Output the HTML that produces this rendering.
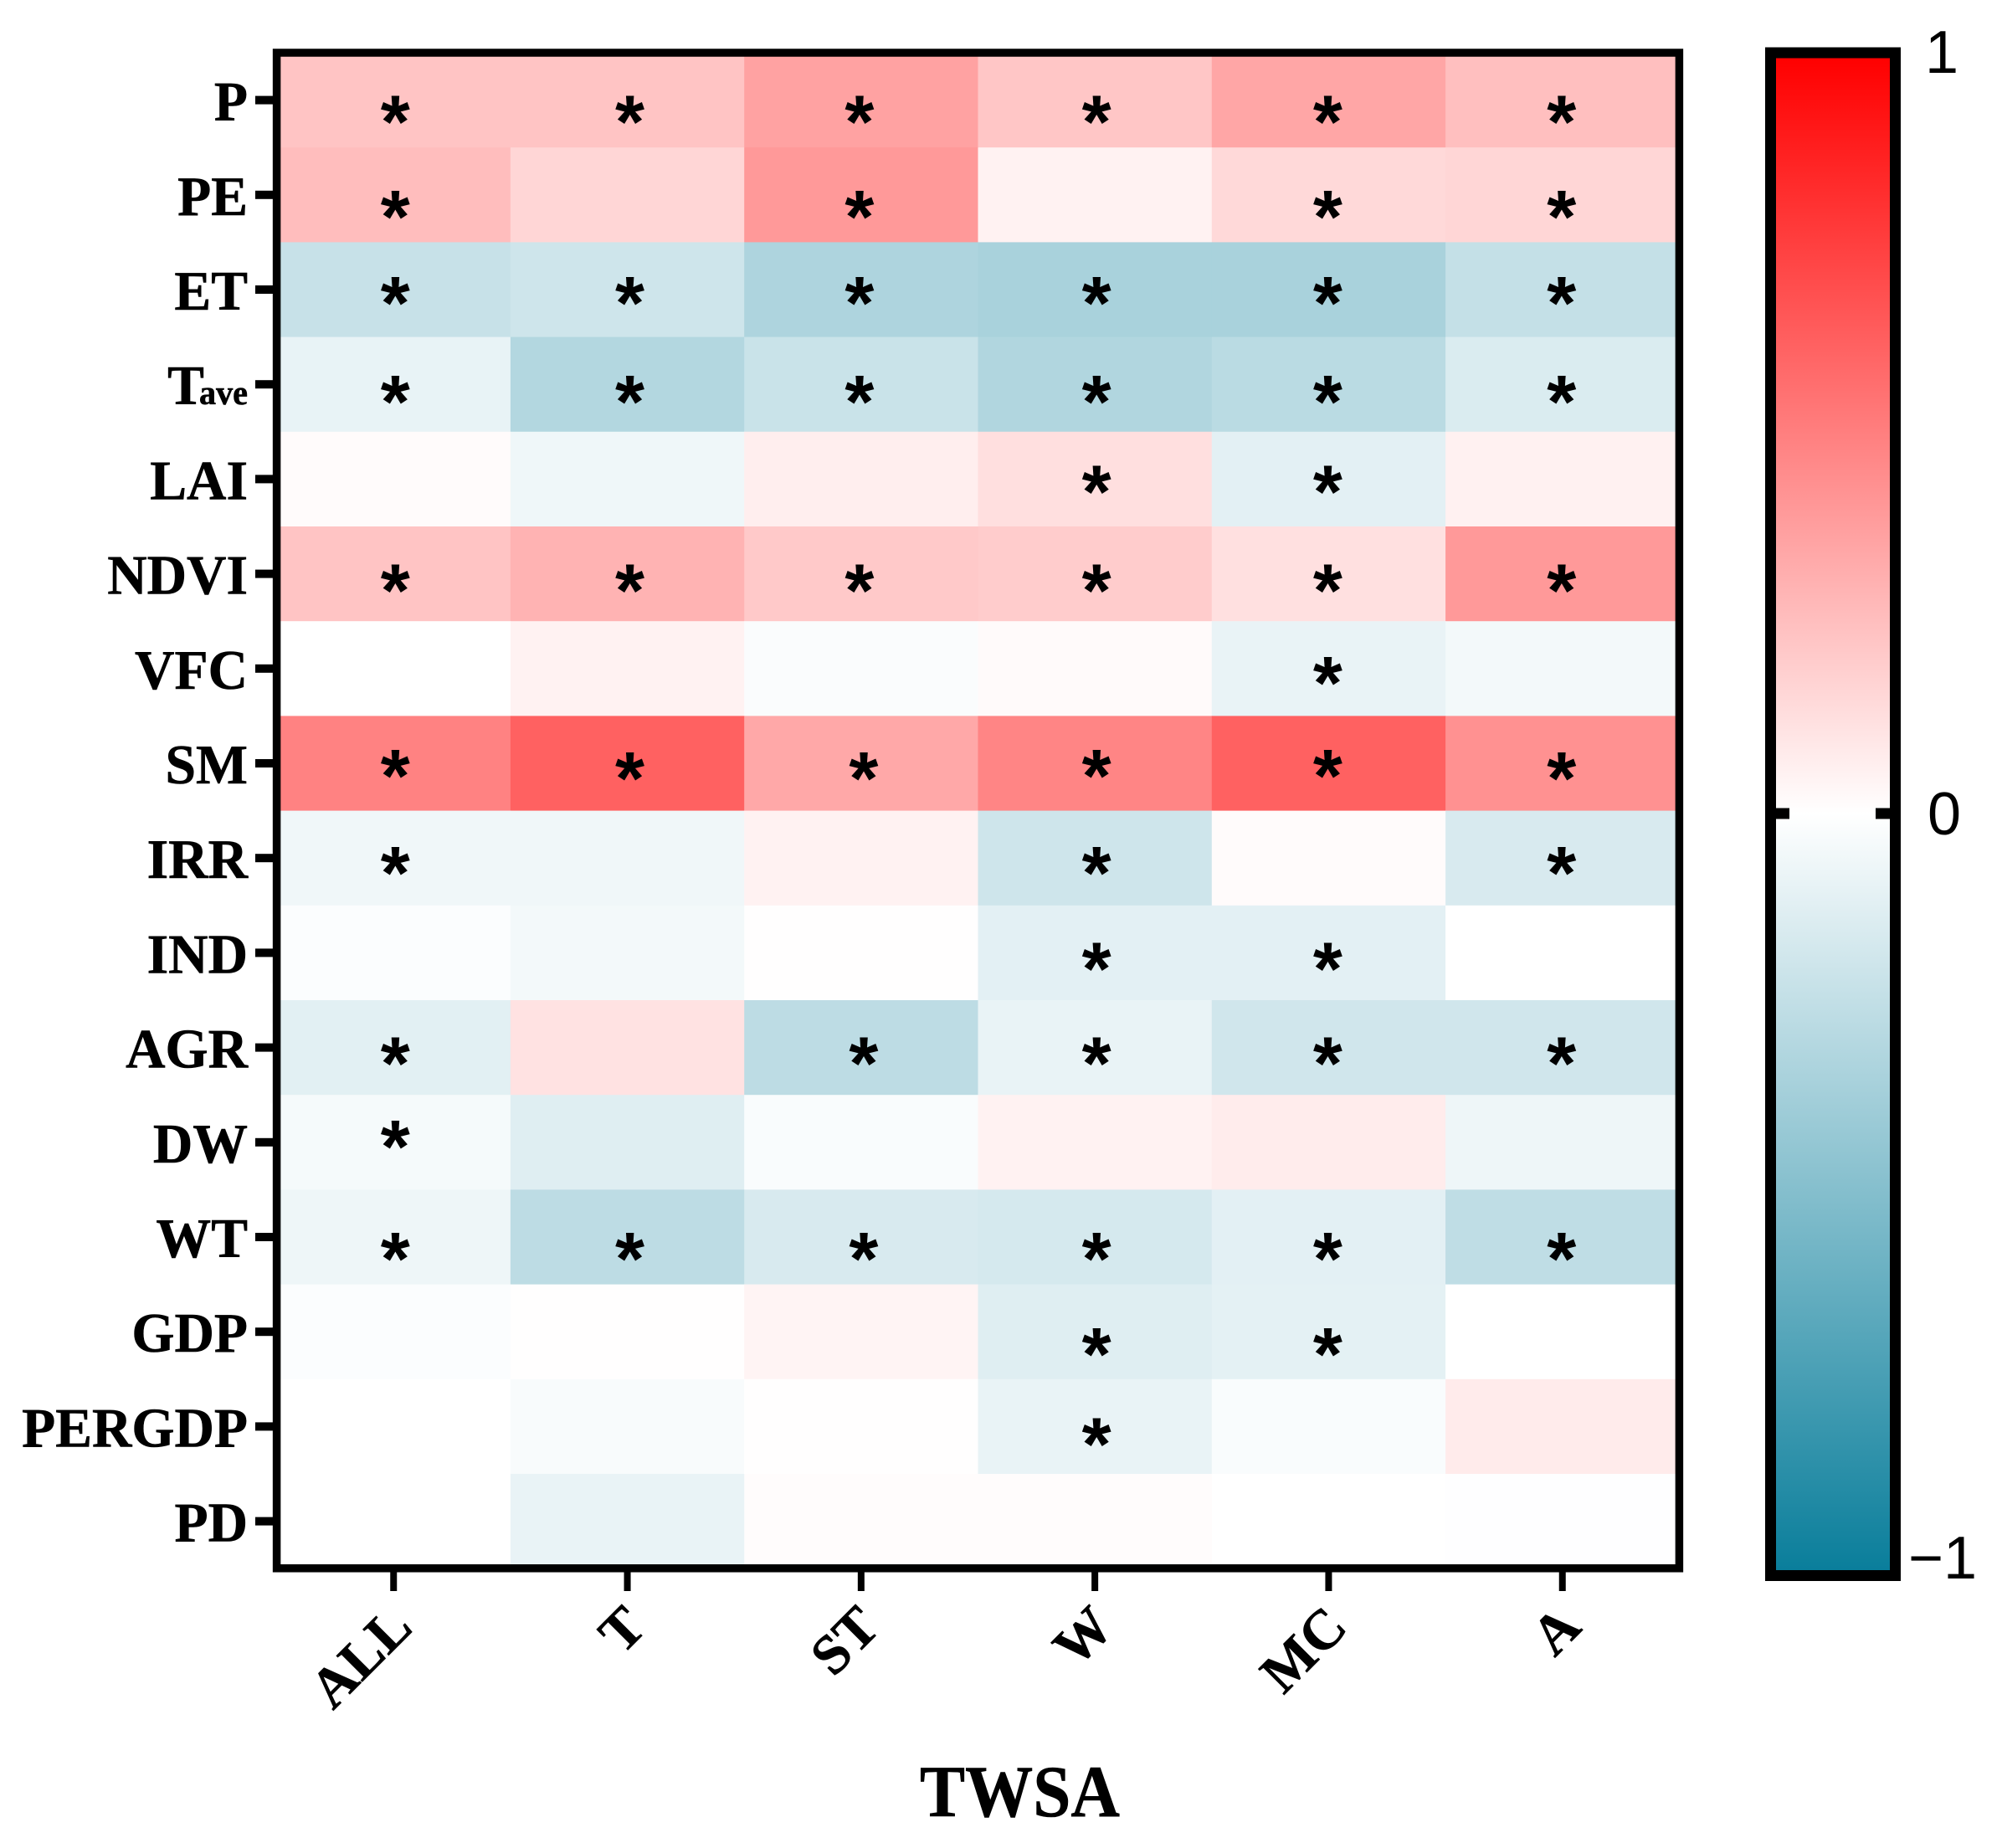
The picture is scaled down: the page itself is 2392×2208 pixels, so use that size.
<!DOCTYPE html>
<html lang="en">
<head>
<meta charset="utf-8">
<title>TWSA correlation heatmap</title>
<style>
html,body{margin:0;padding:0;background:#fff;width:2392px;height:2208px;overflow:hidden}
svg{display:block}
.serif{font-family:"Liberation Serif",serif;font-weight:bold;fill:#000;stroke:#000;stroke-width:0.6px}
.sans{font-family:"Liberation Sans",sans-serif;fill:#000}
.star{font-family:"Liberation Sans",sans-serif;font-weight:bold;fill:#000}
</style>
</head>
<body>
<svg id="chart" xmlns="http://www.w3.org/2000/svg" width="2392" height="2208" viewBox="0 0 2392 2208">
  <defs>
    <linearGradient id="cbar-gradient" x1="0" y1="0" x2="0" y2="1"></linearGradient>
  </defs>
  <rect x="0" y="0" width="2392" height="2208" fill="#ffffff"/>
  <g id="cells"></g>
  <g id="stars"></g>
  <rect x="330.6" y="63" width="1675.8" height="1810.8" fill="none" stroke="#000" stroke-width="9.5"/>
  <g id="y-axis"></g>
  <g id="x-axis"></g>
  <text class="serif" x="1099" y="2170" font-size="88" textLength="239" lengthAdjust="spacingAndGlyphs">TWSA</text>
  <rect id="cbar-fill" x="2122" y="68" width="136" height="1808" fill="url(#cbar-gradient)"/>
  <rect x="2115.5" y="63" width="149" height="1819.5" fill="none" stroke="#000" stroke-width="13"/>
  <g id="cbar-axis"></g>
</svg>
<script>
// ---- data ----
const rowLabels = ["P","PE","ET","Tave","LAI","NDVI","VFC","SM","IRR","IND","AGR","DW","WT","GDP","PERGDP","PD"];
const columnLabels = ["ALL","T","ST","W","MC","A"];
const colorbarTicks = [1,0,-1];
const colorbarLabels = ["1","0","\u22121"];

const valuesP      = [0.23,0.23,0.365,0.225,0.35,0.25];
const valuesPE     = [0.26,0.16,0.40,0.05,0.15,0.16];
const valuesET     = [-0.23,-0.20,-0.33,-0.35,-0.35,-0.24];
const valuesTave   = [-0.095,-0.31,-0.22,-0.32,-0.28,-0.15];
const valuesLAI    = [0.015,-0.065,0.065,0.125,-0.115,0.055];
const valuesNDVI   = [0.23,0.30,0.21,0.20,0.12,0.40];
const valuesVFC    = [0,0.05,-0.02,0.02,-0.09,-0.05];
const valuesSM     = [0.49,0.62,0.34,0.48,0.62,0.43];
const valuesIRR    = [-0.06,-0.06,0.05,-0.20,0.015,-0.16];
const valuesIND    = [-0.015,-0.05,0.005,-0.115,-0.115,0];
const valuesAGR    = [-0.12,0.115,-0.27,-0.09,-0.19,-0.19];
const valuesDW     = [-0.04,-0.13,-0.025,0.05,0.075,-0.07];
const valuesWT     = [-0.07,-0.27,-0.16,-0.17,-0.115,-0.26];
const valuesGDP    = [-0.015,0.005,0.045,-0.13,-0.11,0];
const valuesPERGDP = [0,-0.03,0.005,-0.09,-0.025,0.08];
const valuesPD     = [0,-0.09,0.012,0.012,0,-0.005];
const allValues = [valuesP,valuesPE,valuesET,valuesTave,valuesLAI,valuesNDVI,valuesVFC,valuesSM,valuesIRR,valuesIND,valuesAGR,valuesDW,valuesWT,valuesGDP,valuesPERGDP,valuesPD];

// significance flags: one per column, per row
const sigP      = [1,1,1,1,1,1];
const sigPE     = [1,0,1,0,1,1];
const sigET     = [1,1,1,1,1,1];
const sigTave   = [1,1,1,1,1,1];
const sigLAI    = [0,0,0,1,1,0];
const sigNDVI   = [1,1,1,1,1,1];
const sigVFC    = [0,0,0,0,1,0];
const sigSM     = [1,1,1,1,1,1];
const sigIRR    = [1,0,0,1,0,1];
const sigIND    = [0,0,0,1,1,0];
const sigAGR    = [1,0,1,1,1,1];
const sigDW     = [1,0,0,0,0,0];
const sigWT     = [1,1,1,1,1,1];
const sigGDP    = [0,0,0,1,1,0];
const sigPERGDP = [0,0,0,1,0,0];
const sigPD     = [0,0,0,0,0,0];
const allSig = [sigP,sigPE,sigET,sigTave,sigLAI,sigNDVI,sigVFC,sigSM,sigIRR,sigIND,sigAGR,sigDW,sigWT,sigGDP,sigPERGDP,sigPD];

// ---- axis functions ----
const plotLeft = 330.6, cellW = 279.3, plotTop = 63, cellH = 113.2;
function xBand(i){ return plotLeft + i * cellW; }
function yBand(i){ return plotTop + i * cellH; }
function xCenter(i){ return xBand(i) + cellW / 2; }
function yCenter(i){ return yBand(i) + cellH / 2; }
function cbarY(v){ return 972 - v * 904; }

function valueColor(v){
  const t = Math.min(1, Math.abs(v));
  const end = v >= 0 ? [255,0,0] : [10,126,155];
  const c = end.map(function(e){ return Math.round(255 + (e - 255) * t); });
  return "rgb(" + c.join(",") + ")";
}

const NS = "http://www.w3.org/2000/svg";
function make(tag, parent){
  const el = document.createElementNS(NS, tag);
  parent.appendChild(el);
  return el;
}
function slug(s){ return s.toLowerCase(); }

// Layout nudges for the hand-placed asterisks of the original figure (pixels)
const layoutStarRowShift = [11,11,1,6,0,5,2,0,3,4,4,-10,11,12,6,0];
const layoutStarColShift = [2,3,-2,2,-1,-1];

// ---- cells ----
const cellsG = document.getElementById("cells");
allValues.forEach(function(row, r){
  row.forEach(function(v, c){
    const rect = make("rect", cellsG);
    
    
    rect.setAttribute("x", xBand(c));
    rect.setAttribute("y", yBand(r));
    rect.setAttribute("width", cellW + 0.5);
    rect.setAttribute("height", cellH + 0.5);
    rect.setAttribute("fill", valueColor(v));
  });
});

// ---- significance stars ----
const starsG = document.getElementById("stars");
allSig.forEach(function(row, r){
  row.forEach(function(s, c){
    if (!s) return;
    const t = make("text", starsG);
    
    
    let dy = layoutStarRowShift[r], dx = layoutStarColShift[c];
    if (c === 2 && (r === 7 || r === 10 || r === 12)) dx += 5;
    if (r === 7 && (c === 1 || c === 2 || c === 5)) dy += 3;
    t.setAttribute("class", "star");
    t.setAttribute("x", xCenter(c) + dx);
    t.setAttribute("y", yCenter(r) + dy + 46);
    t.setAttribute("text-anchor", "middle");
    t.setAttribute("font-size", "90");
    t.textContent = "*";
  });
});

// ---- y axis ----
const yG = document.getElementById("y-axis");
rowLabels.forEach(function(lab, r){
  const tick = make("rect", yG);
  
  
  tick.setAttribute("x", 305);
  tick.setAttribute("y", yCenter(r) - 5);
  tick.setAttribute("width", 22);
  tick.setAttribute("height", 10);
  tick.setAttribute("fill", "#000");
  const t = make("text", yG);
  
  
  t.setAttribute("class", "serif");
  t.setAttribute("transform", "translate(296 " + (yCenter(r) + 24) + ") scale(0.98 1)");
  t.setAttribute("text-anchor", "end");
  t.setAttribute("font-size", "67");
  if (lab === "Tave") {
    const a = make("tspan", t);
    a.textContent = "T";
    const b = make("tspan", t);
    b.setAttribute("font-size", "41");
    b.setAttribute("dx", "-6");
    b.textContent = "ave";
  } else {
    t.textContent = lab;
  }
});

// ---- x axis ----
const xG = document.getElementById("x-axis");
columnLabels.forEach(function(lab, c){
  const tick = make("rect", xG);
  
  
  tick.setAttribute("x", xCenter(c) - 4);
  tick.setAttribute("y", 1877);
  tick.setAttribute("width", 8);
  tick.setAttribute("height", 24);
  tick.setAttribute("fill", "#000");
  const t = make("text", xG);
  
  
  t.setAttribute("class", "serif");
  const ax = xCenter(c) + 25, ay = 1947;
  t.setAttribute("x", ax);
  t.setAttribute("y", ay);
  t.setAttribute("text-anchor", "end");
  t.setAttribute("font-size", "67");
  t.setAttribute("transform", "rotate(-45 " + ax + " " + ay + ")");
  t.textContent = lab;
});

// ---- colorbar ----
const grad = document.getElementById("cbar-gradient");
colorbarTicks.forEach(function(v){
  const stop = make("stop", grad);
  stop.setAttribute("offset", (1 - v) / 2);
  stop.setAttribute("stop-color", valueColor(v));
});
const cbG = document.getElementById("cbar-axis");
const cbLabelX = [2300, 2303, 2280];
const cbLabelBase = [87, 997, 1886];
colorbarTicks.forEach(function(v, i){
  if (v === 0) {
    const left = make("rect", cbG);
    
    
    left.setAttribute("x", 2122);
    left.setAttribute("y", cbarY(v) - 6.5);
    left.setAttribute("width", 16);
    left.setAttribute("height", 13);
    left.setAttribute("fill", "#000");
    const right = make("rect", cbG);
    
    
    right.setAttribute("x", 2241);
    right.setAttribute("y", cbarY(v) - 6.5);
    right.setAttribute("width", 17);
    right.setAttribute("height", 13);
    right.setAttribute("fill", "#000");
  }
  const t = make("text", cbG);
  
  
  t.setAttribute("class", "sans");
  t.setAttribute("x", cbLabelX[i]);
  t.setAttribute("y", cbLabelBase[i]);
  t.setAttribute("font-size", "72");
  t.textContent = colorbarLabels[i];
});
</script>
</body>
</html>
